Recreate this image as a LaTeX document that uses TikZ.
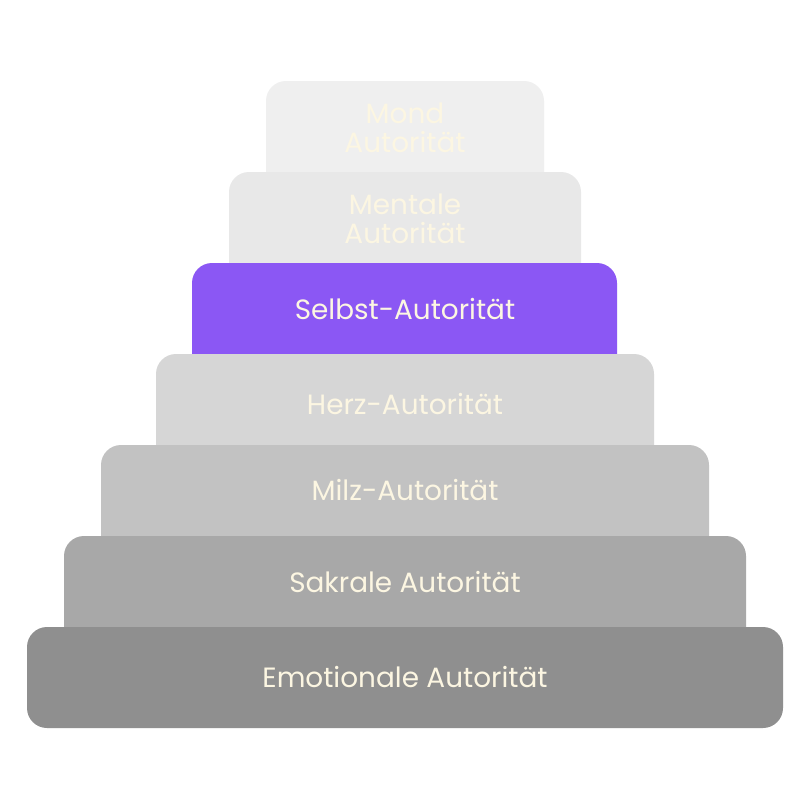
\documentclass[tikz,border=0pt]{standalone}
\usepackage{fontspec}
\setmainfont{Poppins}
\usepackage{tikz}

\definecolor{mondgray}{HTML}{EFEFEF}
\definecolor{mentalgray}{HTML}{E8E8E8}
\definecolor{selbstpurple}{HTML}{8B57F4}
\definecolor{herzgray}{HTML}{D6D6D6}
\definecolor{milzgray}{HTML}{C2C2C2}
\definecolor{sakralgray}{HTML}{A8A8A8}
\definecolor{emogray}{HTML}{8F8F8F}
\definecolor{creamtext}{HTML}{FCF6E2}

\begin{document}
\begin{tikzpicture}[x=0.03cm, y=-0.03cm]
				\tikzset{step_box/.style = {rounded corners=0.6cm},
				label_txt/.style = {text=creamtext, font=\fontsize{23.8}{24.7}\selectfont, align=center, inner sep=0pt}}
				
				\useasboundingbox[fill=white] (0,0) rectangle (810,810);
				
				% boxes top to bottom, each one runs under the next
				\fill[step_box, mondgray] (266,81) rectangle (544,200);
				\fill[step_box, mentalgray] (229,172) rectangle (581,290);
				\fill[step_box, selbstpurple] (192,263) rectangle (617,380);
				\fill[step_box, herzgray] (156,354) rectangle (654,470);
				\fill[step_box, milzgray] (101,445) rectangle (709,560);
				\fill[step_box, sakralgray] (64,536) rectangle (746,650);
				\fill[step_box, emogray] (27,627) rectangle (783,728);
				
				\node[label_txt] (label_mond) at (405,128) {Mond\\Autorität};
				\node[label_txt] (label_mental) at (405,219) {Mentale\\Autorität};
				\node[label_txt] (label_selbst) at (405,309) {Selbst-Autorität};
				\node[label_txt] (label_herz) at (405,404) {Herz-Autorität};
				\node[label_txt] (label_milz) at (405,490) {Milz-Autorität};
				\node[label_txt] (label_sakral) at (405,582) {Sakrale Autorität};
				\node[label_txt] (label_emo) at (405,677) {Emotionale Autorität};
				
			\end{tikzpicture}
\end{document}
